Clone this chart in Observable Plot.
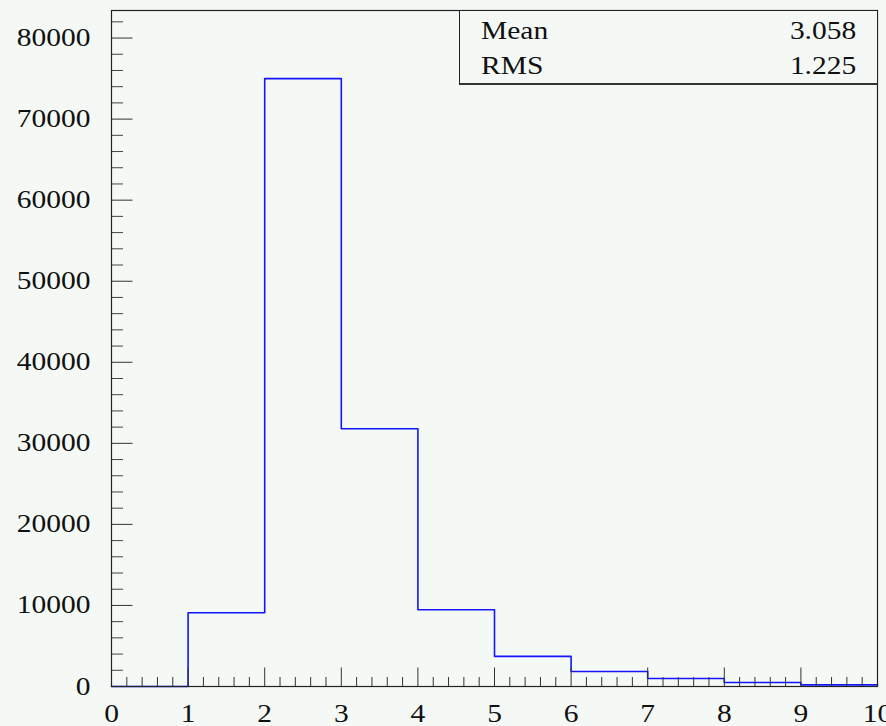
<!DOCTYPE html>
<html>
<head>
<meta charset="utf-8">
<script src="https://cdn.jsdelivr.net/npm/d3@7"></script>
<script src="https://cdn.jsdelivr.net/npm/@observablehq/plot@0.6"></script>
<style>
  html, body { margin: 0; padding: 0; background: #f5f9f6; overflow: hidden; }
  #wrap { position: relative; width: 886px; height: 726px; }
  #stats { position: absolute; left: 459px; top: 10px; width: 419px; height: 75px; box-sizing: border-box;
           border: 1px solid #222; border-bottom: 2px solid #333; background: #f5f9f6;
           font-family: "Liberation Serif", "Times New Roman", serif; font-size: 25px; color: #111; }
  .row { position: absolute; height: 30px; line-height: 30px; white-space: nowrap; }
  .lab { left: 21px; transform: scaleX(1.18); transform-origin: left center; }
  .val { right: 21px; transform: scaleX(1.18); transform-origin: right center; }
</style>
</head>
<body>
<div id="wrap"></div>
<script>
// Histogram bins: left edges and counts (bin width 1)
const binEdges = [0, 1, 2, 3, 4, 5, 6, 7, 8, 9, 10];
const counts   = [0, 9100, 75000, 31800, 9470, 3720, 1850, 990, 500, 200];

// Axis ticks
const xMajor = [0, 1, 2, 3, 4, 5, 6, 7, 8, 9, 10];
const xMinor = d3.range(0, 10.001, 0.2).filter(v => Math.abs(v - Math.round(v)) > 1e-6);
const yMajor = [0, 10000, 20000, 30000, 40000, 50000, 60000, 70000, 80000];
const yMinor = d3.range(0, 82001, 2000).filter(v => v % 10000 !== 0);

// Stats box
const statNames  = ["Mean", "RMS"];
const statValues = ["3.058", "1.225"];

// Step outline: each bin's left edge with its count, plus the closing edge
const steps = counts.map((c, i) => ({x: binEdges[i], y: c}));
steps.push({x: binEdges[binEdges.length - 1], y: counts[counts.length - 1]});

const font = "Liberation Serif, Times New Roman, serif";
const plot = Plot.plot({
  width: 886,
  height: 726,
  marginLeft: 111,
  marginRight: 9,
  marginTop: 10,
  marginBottom: 40,
  style: {background: "#f5f9f6", fontFamily: font, fontSize: "25px", color: "#111"},
  x: {domain: [0, 10], label: null},
  y: {domain: [0, 83400], label: null},
  marks: [
    Plot.line(steps, {x: "x", y: "y", curve: "step-after", stroke: "#1414ff", strokeWidth: 1.6}),
    // inward ticks
    Plot.axisY({ticks: yMajor, tickSize: -21.5, tickFormat: () => "", stroke: "#333", label: null}),
    Plot.axisY({ticks: yMinor, tickSize: -12, tickFormat: () => "", stroke: "#444", label: null}),
    Plot.axisX({ticks: xMajor, tickSize: -18.5, tickFormat: () => "", stroke: "#333", label: null}),
    Plot.axisX({ticks: xMinor, tickSize: -9, tickFormat: () => "", stroke: "#333", label: null}),
    // labels
    Plot.axisY({ticks: yMajor, tickSize: 0, tickPadding: 21, tickFormat: d => String(d), label: null, fill: "#111"}),
    Plot.axisX({ticks: xMajor, tickSize: 0, tickPadding: 18, tickFormat: d => String(d), label: null, fill: "#111"}),
    Plot.frame({stroke: "#222", strokeWidth: 1.2})
  ]
});
plot.style.overflow = "visible";

const wrap = document.getElementById("wrap");
wrap.appendChild(plot);

// horizontally stretch the serif labels like the reference rendering,
// scaling each one about its own anchor point
plot.querySelectorAll("text").forEach(t => {
  if (!t.textContent) return;
  const r = t.getBoundingClientRect();
  if (!r.width) return;
  const anchor = getComputedStyle(t).textAnchor;
  const sx = anchor === "end" ? r.right : anchor === "start" ? r.left : (r.left + r.right) / 2;
  const parent = t.parentNode;
  const inv = parent.getScreenCTM().inverse();
  const p = new DOMPoint(sx, r.top).matrixTransform(inv);
  const g = document.createElementNS("http://www.w3.org/2000/svg", "g");
  g.setAttribute("transform", `translate(${p.x},0) scale(1.18,1) translate(${-p.x},0)`);
  parent.insertBefore(g, t);
  g.appendChild(t);
});

const box = document.createElement("div");
box.id = "stats";
statNames.forEach((name, i) => {
  const top = 4.6 + i * 35;
  const l = document.createElement("div");
  l.className = "row lab"; l.style.top = top + "px"; l.textContent = name;
  const v = document.createElement("div");
  v.className = "row val"; v.style.top = top + "px"; v.textContent = statValues[i];
  box.appendChild(l); box.appendChild(v);
});
wrap.appendChild(box);
</script>
</body>
</html>
